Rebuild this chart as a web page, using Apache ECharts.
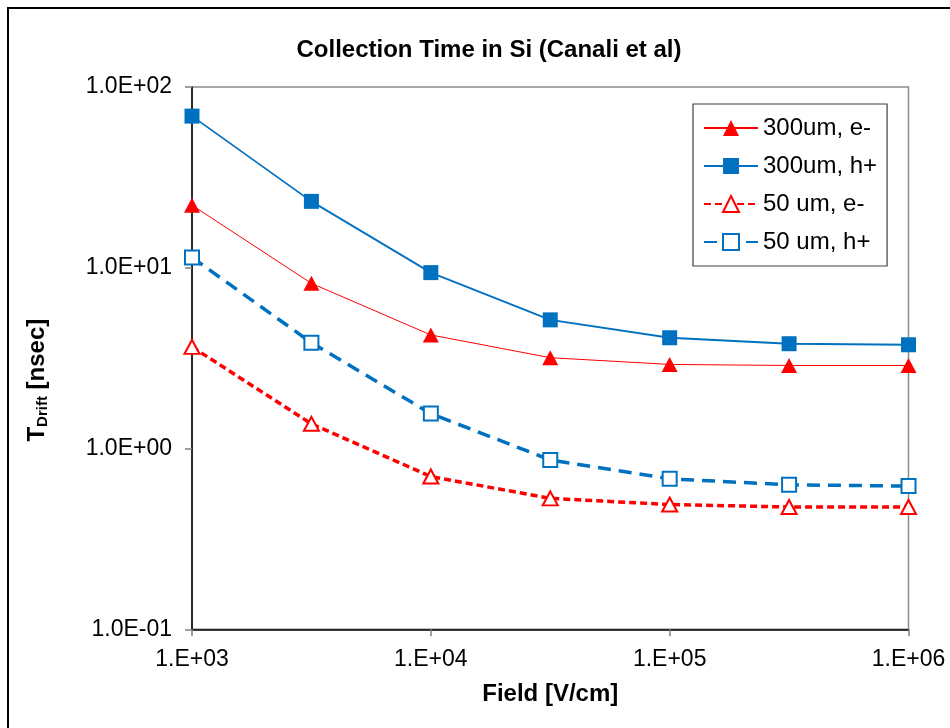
<!DOCTYPE html>
<html>
<head>
<meta charset="utf-8">
<script src="https://cdn.jsdelivr.net/npm/echarts@6/dist/echarts.min.js"></script>
<style>
html,body{margin:0;padding:0;background:#fff;}
#chart{width:950px;height:728px;}
</style>
</head>
<body>
<div id="chart"></div>
<script>
// Field values [V/cm]
var fields = [1000, 3162, 10000, 31623, 100000, 316228, 1000000];
// Drift times [nsec]
var e300 = [22.2, 8.2, 4.25, 3.18, 2.92, 2.88, 2.88];
var h300 = [69, 23.3, 9.4, 5.15, 4.1, 3.8, 3.75];
var e50 = [3.65, 1.37, 0.70, 0.53, 0.49, 0.475, 0.475];
var h50 = [11.4, 3.85, 1.56, 0.865, 0.68, 0.63, 0.62];
var seriesNames = ['300um, e-', '300um, h+', '50 um, e-', '50 um, h+'];
var xTicks = [1000, 10000, 100000, 1000000];
var yTicks = [0.1, 1, 10, 100];

function pairs(vals){ return fields.map(function(f,i){ return [f, vals[i]]; }); }
function pad2(n){ return (n<10?'0':'')+n; }

var RED = '#FF0000', BLUE = '#0070C0';
var FONT = '"Liberation Sans", Arial, sans-serif';

var chart = echarts.init(document.getElementById('chart'), null, {renderer:'canvas'});
chart.setOption({
  animation: false,
  backgroundColor: '#fff',
  textStyle: {fontFamily: FONT, color: '#000'},
  graphic: [{
    type: 'rect', shape: {x: 8, y: 8, width: 980, height: 760},
    style: {fill: 'none', stroke: '#000', lineWidth: 2}, silent: true, z: -1
  }],
  title: {
    text: 'Collection Time in Si (Canali et al)',
    left: 484, top: 33, textAlign: 'center',
    textStyle: {fontFamily: FONT, fontWeight: 'bold', fontSize: 24, color: '#000'}
  },
  grid: {left: 192, top: 87, right: 41.5, bottom: 98.7, show: true, borderColor: '#8c8c8c', borderWidth: 1.5},
  legend: {
    orient: 'vertical', left: 693, top: 104,
    data: seriesNames,
    itemWidth: 54, itemHeight: 20, itemGap: 14,
    padding: [12, 10, 12, 10],
    borderColor: '#404040', borderWidth: 1.2, backgroundColor: '#fff',
    textStyle: {fontFamily: FONT, fontSize: 24, color: '#000', padding: [0,0,0,0]}
  },
  xAxis: {
    type: 'log', logBase: 10, min: 1000, max: 1000000,
    name: 'Field [V/cm]', nameLocation: 'middle', nameGap: 53,
    nameTextStyle: {fontFamily: FONT, fontWeight: 'bold', fontSize: 24, color: '#000'},
    axisLine: {show: true, onZero: false, lineStyle: {color: '#000', width: 1.5}},
    axisTick: {show: true, length: 7, lineStyle: {color: '#808080', width: 1.5}},
    minorTick: {show: false},
    splitLine: {show: false},
    axisLabel: {
      fontFamily: FONT, fontSize: 23, color: '#000', margin: 19,
      formatter: function(v){
        var e = Math.round(Math.log10(v));
        return xTicks.indexOf(Math.pow(10,e))>=0 ? '1.E+' + pad2(e) : '';
      }
    }
  },
  yAxis: {
    type: 'log', logBase: 10, min: 0.1, max: 100,
    name: '{t|T}{s|Drift}{t| [nsec]}', nameLocation: 'middle', nameGap: 142, nameRotate: 90,
    nameTextStyle: {
      padding: [0, 44, 0, 0],
      rich: {
        t: {fontFamily: FONT, fontWeight: 'bold', fontSize: 24, color: '#000'},
        s: {fontFamily: FONT, fontWeight: 'bold', fontSize: 15, color: '#000', verticalAlign: 'bottom', padding: [10,0,0,0]}
      }
    },
    axisLine: {show: true, onZero: false, lineStyle: {color: '#000', width: 1.5}},
    axisTick: {show: true, length: 7, lineStyle: {color: '#808080', width: 1.5}},
    minorTick: {show: false},
    splitLine: {show: false},
    axisLabel: {
      fontFamily: FONT, fontSize: 23, color: '#000', margin: 20,
      formatter: function(v){
        var e = Math.round(Math.log10(v));
        return '1.0E' + (e<0?'-':'+') + pad2(Math.abs(e));
      }
    }
  },
  series: [
    {
      name: seriesNames[0], type: 'line', data: pairs(e300),
      symbol: 'triangle', symbolSize: [16, 15],
      lineStyle: {color: RED, width: 1},
      itemStyle: {color: RED, borderWidth: 0}, z: 3
    },
    {
      name: seriesNames[1], type: 'line', data: pairs(h300),
      symbol: 'rect', symbolSize: 15,
      lineStyle: {color: BLUE, width: 1.8},
      itemStyle: {color: BLUE, borderWidth: 0}, z: 3
    },
    {
      name: seriesNames[2], type: 'line', data: pairs(e50),
      symbol: 'emptyTriangle', symbolSize: [15, 14],
      lineStyle: {color: RED, width: 3.5, type: [7, 4]},
      itemStyle: {color: RED, borderColor: RED, borderWidth: 1.3}, z: 2
    },
    {
      name: seriesNames[3], type: 'line', data: pairs(h50),
      symbol: 'emptyRect', symbolSize: 14,
      lineStyle: {color: BLUE, width: 3.5, type: [13, 8]},
      itemStyle: {color: BLUE, borderColor: BLUE, borderWidth: 1.3}, z: 2
    }
  ]
});
</script>
</body>
</html>
